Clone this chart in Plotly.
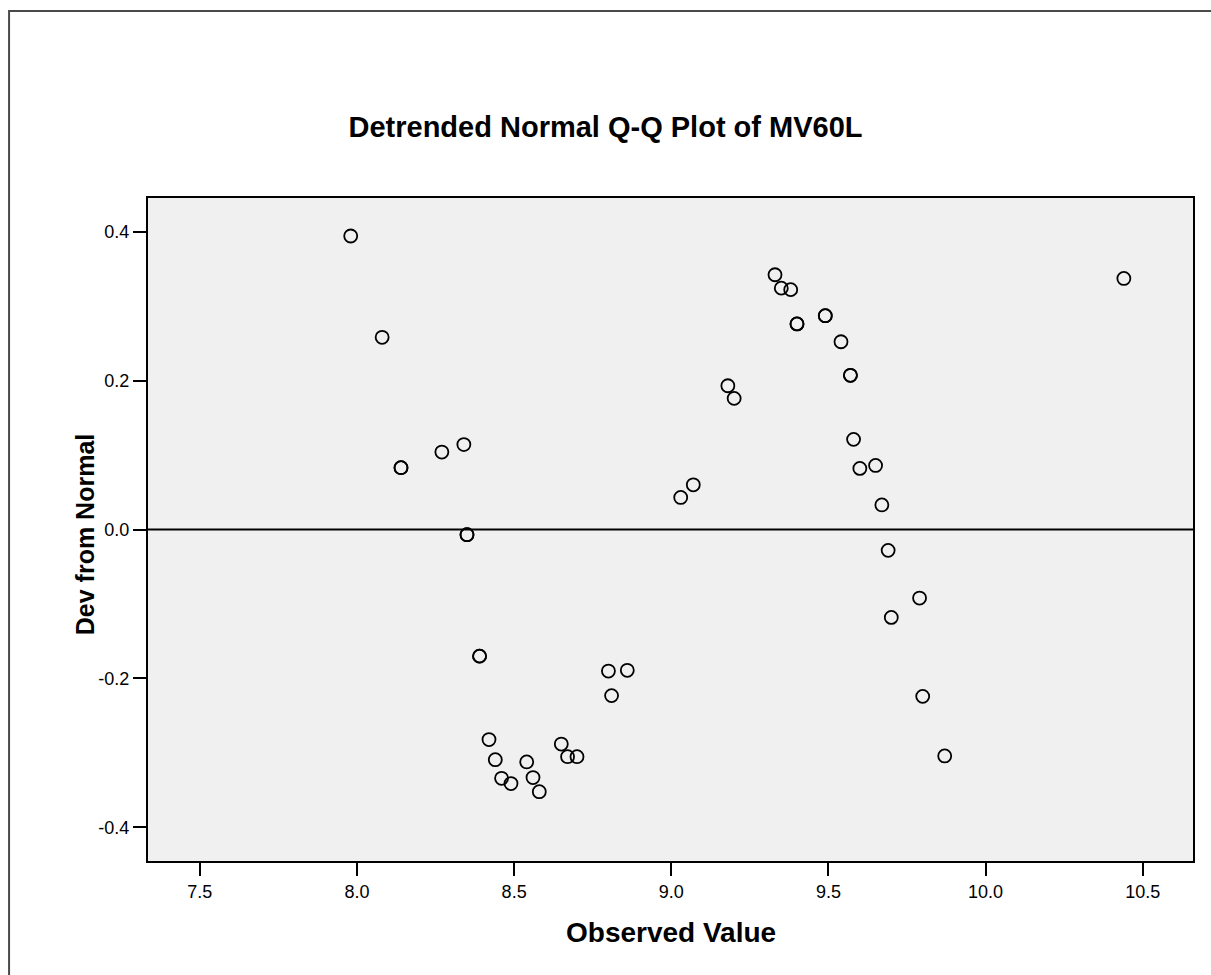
import plotly.graph_objects as go

observed = [7.98, 8.08, 8.14, 8.14, 8.27, 8.34, 8.35, 8.35, 8.39, 8.39, 8.42, 8.44,
            8.46, 8.49, 8.54, 8.56, 8.58, 8.65, 8.67, 8.70, 8.80, 8.81, 8.86, 9.03,
            9.07, 9.18, 9.20, 9.33, 9.35, 9.38, 9.40, 9.40, 9.49, 9.49, 9.54, 9.57,
            9.57, 9.58, 9.60, 9.65, 9.67, 9.69, 9.70, 9.79, 9.80, 9.87, 10.44]
dev_from_normal = [0.394, 0.258, 0.083, 0.083, 0.104, 0.114, -0.007, -0.007, -0.170,
                   -0.170, -0.282, -0.309, -0.334, -0.341, -0.312, -0.333, -0.352,
                   -0.288, -0.305, -0.305, -0.190, -0.223, -0.189, 0.043, 0.060,
                   0.193, 0.176, 0.342, 0.324, 0.322, 0.276, 0.276, 0.287, 0.287,
                   0.252, 0.207, 0.207, 0.121, 0.082, 0.086, 0.033, -0.028, -0.118,
                   -0.092, -0.224, -0.304, 0.337]

x_ticks = [7.5, 8.0, 8.5, 9.0, 9.5, 10.0, 10.5]
y_ticks = [-0.4, -0.2, 0.0, 0.2, 0.4]

W, H = 1211, 975
L, R, T, B = 148, 1193.5, 198, 860.7
pw, ph = R - L, B - T

def px(xp):
    return (xp - L) / pw

def py(yp):
    return (B - yp) / ph

fig = go.Figure()
fig.add_trace(go.Scatter(
    x=observed, y=dev_from_normal, mode="markers",
    marker=dict(symbol="circle-open", size=13, color="black", line=dict(width=1.8, color="black")),
    showlegend=False, hoverinfo="x+y",
))

font_family = "Liberation Sans, Arial, sans-serif"

fig.update_layout(
    width=W, height=H,
    margin=dict(l=L, r=W - R, t=T, b=H - B, autoexpand=False),
    paper_bgcolor="white",
    plot_bgcolor="#F0F0F0",
    font=dict(family=font_family, color="black"),
    title=dict(text="<b>Detrended Normal Q-Q Plot of MV60L</b>", x=0.5, xref="container",
               xanchor="center", y=1 - 127 / H, yref="container", yanchor="middle",
               font=dict(size=29, family=font_family, color="black")),
    xaxis=dict(range=[7.335, 10.66], tickvals=x_ticks, ticktext=[f"{v:.1f}" for v in x_ticks],
               ticks="outside", ticklen=13, tickwidth=2, tickcolor="black",
               showgrid=False, zeroline=False, showline=True, linecolor="black", linewidth=2,
               mirror=True, tickfont=dict(size=18, family=font_family)),
    yaxis=dict(range=[-0.445, 0.445], tickvals=y_ticks, ticktext=[f"{v:.1f}" for v in y_ticks],
               ticks="outside", ticklen=13, tickwidth=2, tickcolor="black",
               showgrid=False, zeroline=False, showline=True, linecolor="black", linewidth=2,
               mirror=True, tickfont=dict(size=18, family=font_family)),
    shapes=[
        dict(type="line", xref="paper", yref="y", x0=0, x1=1, y0=0, y1=0,
             line=dict(color="black", width=2), layer="below"),
        dict(type="rect", xref="paper", yref="paper", x0=px(9), x1=px(1230), y0=py(11), y1=py(995),
             line=dict(color="#4a4a4a", width=2), fillcolor="rgba(0,0,0,0)", layer="below"),
    ],
    annotations=[
        dict(text="<b>Observed Value</b>", xref="paper", yref="paper", x=0.5, y=py(932),
             xanchor="center", yanchor="middle", showarrow=False,
             font=dict(size=28, family=font_family, color="black")),
        dict(text="<b>Dev from Normal</b>", xref="paper", yref="paper", x=px(85), y=py(535),
             xanchor="center", yanchor="middle", showarrow=False, textangle=-90,
             font=dict(size=25, family=font_family, color="black")),
    ],
)

fig.write_html("out.html", config={"displayModeBar": False},
               post_script="document.body.style.margin='0';")
